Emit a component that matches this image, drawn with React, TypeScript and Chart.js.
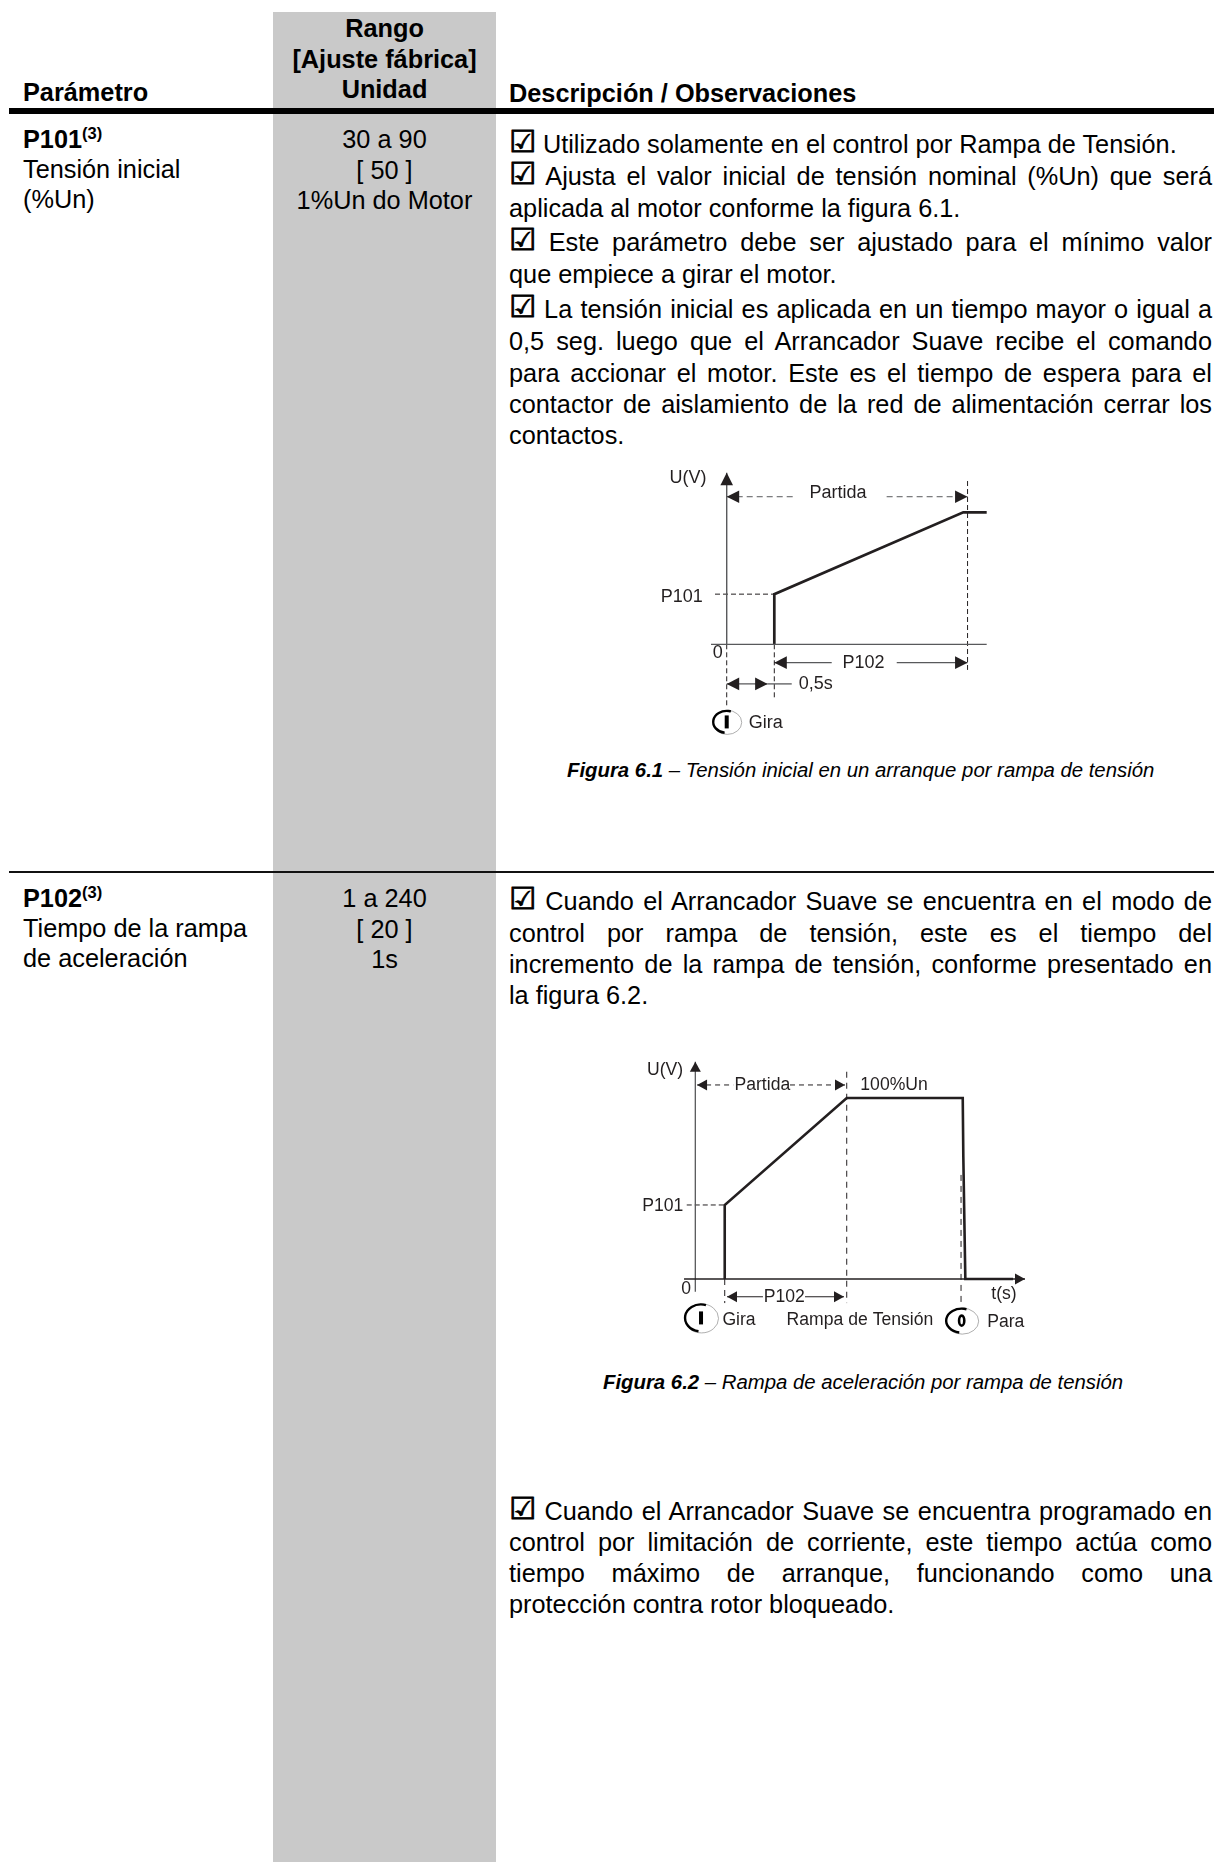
import React, { useEffect, useRef } from "react";
import { Chart, registerables } from "chart.js";

Chart.register(...registerables);

// ---------- table text ----------
const FONT = '"Liberation Sans", Arial, sans-serif';
const BOX = "\u2611";

const col1Heading = "Parámetro";
const col2Heading = ["Rango", "[Ajuste fábrica]", "Unidad"];
const col3Heading = "Descripción / Observaciones";

const p101Name = ["Tensión inicial", "(%Un)"];
const p101Range = ["30 a 90", "[ 50 ]", "1%Un do Motor"];
const p102Name = ["Tiempo de la rampa", "de aceleración"];
const p102Range = ["1 a 240", "[ 20 ]", "1s"];

const p101Text: [string, number, boolean, boolean][] = [
  ["Utilizado solamente en el control por Rampa de Tensión.", 153, false, true],
  ["Ajusta el valor inicial de tensión nominal (%Un) que será", 185, true, true],
  ["aplicada al motor conforme la figura 6.1.", 217, false, false],
  ["Este parámetro debe ser ajustado para el mínimo valor", 251, true, true],
  ["que empiece a girar el motor.", 283, false, false],
  ["La tensión inicial es aplicada en un tiempo mayor o igual a", 318, true, true],
  ["0,5 seg. luego que el Arrancador Suave recibe el comando", 350, true, false],
  ["para accionar el motor. Este es el tiempo de espera para el", 382, true, false],
  ["contactor de aislamiento de la red de alimentación cerrar los", 413, true, false],
  ["contactos.", 444, false, false],
];
const p102Text: [string, number, boolean, boolean][] = [
  ["Cuando el Arrancador Suave se encuentra en el modo de", 910, true, true],
  ["control por rampa de tensión, este es el tiempo del", 942, true, false],
  ["incremento de la rampa de tensión, conforme presentado en", 973, true, false],
  ["la figura 6.2.", 1004, false, false],
  ["Cuando el Arrancador Suave se encuentra programado en", 1520, true, true],
  ["control por limitación de corriente, este tiempo actúa como", 1551, true, false],
  ["tiempo máximo de arranque, funcionando como una", 1582, true, false],
  ["protección contra rotor bloqueado.", 1613, false, false],
];

const caption1 = ["Figura 6.1", " – Tensión inicial en un arranque por rampa de tensión"];
const caption2 = ["Figura 6.2", " – Rampa de aceleración por rampa de tensión"];

// ---------- figure 6.1 values (t in s, U in %Un) ----------
const f1VoltageT = [0.5, 0.5, 2.485, 2.731];
const f1VoltageU = [0, 38, 100, 100];
const f1XAxisT = [-0.165, 2.731];
const f1YAxisU = [0, 130];
const f1Y0GuideU = [0, -47.3];
const f1StartGuideU = [0, -40.7];
const f1EndT = 2.53;
const f1EndGuideU = [123.7, -19.4];
const f1P101GuideT = [-0.123, 0.5];
const f1PartidaT = [0, 0.735, 1.68, 2.53];
const f1PartidaU = 111.8;
const f1P102T = [0.5, 1.103, 1.786, 2.53];
const f1P102U = -13.9;
const f1DelayT = [0, 0.43, 0.683];
const f1DelayU = -30;

// ---------- figure 6.2 values ----------
const f2VoltageT = [0.5, 0.5, 2.575, 4.548, 4.558, 4.575, 4.592, 5.403];
const f2VoltageU = [0, 40.9, 100, 100, 67.6, 33.5, 0, 0];
const f2XAxisT = [-0.192, 5.607];
const f2YAxisU = [-7, 120];
const f2RampEndGuideU = [114.5, -13.3];
const f2StopT = 4.519;
const f2StopGuideU = [57.5, -14.4];
const f2StartGuideU = [0, -13.3];
const f2P101GuideT = [-0.146, 0.5];
const f2PartidaT = [0.03, 0.646, 1.61, 2.546];
const f2PartidaU = 107.2;
const f2P102T = [0.539, 1.15, 1.866, 2.529];
const f2P102U = -9.8;

const DARK = "#231f20";
const GREY = "#58595b";

type Pt = { x: number; y: number };
const pts = (xs: number[], ys: number[]): Pt[] => xs.map((x, i) => ({ x, y: ys[i] }));
const seg = (
  data: Pt[],
  color: string,
  width: number,
  dash: number[] = [],
  arrow: string | null = null
) => ({
  data,
  borderColor: color,
  borderWidth: width,
  borderDash: dash,
  showLine: true,
  pointRadius: 0,
  tension: 0,
  arrow,
});

type Lbl = { text: string; t: number; u: number };
type Ico = { kind: string; t: number; u: number; rx: number; ry: number };

const annotate = {
  id: "annotate",
  afterDatasetsDraw(chart: any) {
    const { ctx, scales } = chart;
    const o = chart.options.plugins.annotate;
    chart.data.datasets.forEach((ds: any, i: number) => {
      if (!ds.arrow) return;
      const el = chart.getDatasetMeta(i).data;
      const head = (a: any, b: any) => {
        const ang = Math.atan2(a.y - b.y, a.x - b.x);
        ctx.save();
        ctx.translate(a.x, a.y);
        ctx.rotate(ang);
        ctx.beginPath();
        ctx.moveTo(0, 0);
        ctx.lineTo(-o.headLen, -o.headW);
        ctx.lineTo(-o.headLen, o.headW);
        ctx.closePath();
        ctx.fillStyle = DARK;
        ctx.fill();
        ctx.restore();
      };
      if (ds.arrow === "start" || ds.arrow === "both") head(el[0], el[1]);
      if (ds.arrow === "end" || ds.arrow === "both") head(el[el.length - 1], el[el.length - 2]);
    });
    ctx.save();
    ctx.font = `${o.size}px ${FONT}`;
    ctx.fillStyle = DARK;
    ctx.textAlign = "center";
    ctx.textBaseline = "middle";
    o.labels.forEach((l: Lbl) => {
      ctx.fillText(l.text, scales.x.getPixelForValue(l.t), scales.y.getPixelForValue(l.u));
    });
    o.icons.forEach((c: Ico) => {
      const x = scales.x.getPixelForValue(c.t);
      const y = scales.y.getPixelForValue(c.u);
      ctx.strokeStyle = "#9a9a9a";
      ctx.lineWidth = 0.8;
      ctx.beginPath();
      ctx.ellipse(x + 0.5, y + 0.5, c.rx, c.ry, 0, 0, Math.PI * 2);
      ctx.stroke();
      ctx.strokeStyle = "#000";
      ctx.lineWidth = 2.4;
      ctx.beginPath();
      ctx.ellipse(x, y, c.rx - 1, c.ry - 1, 0, Math.PI * 0.55, Math.PI * 1.6);
      ctx.stroke();
      ctx.fillStyle = "#000";
      if (c.kind === "I") {
        ctx.fillRect(x - 2, y - 6.5, 4, 13);
      } else {
        ctx.lineWidth = 2.6;
        ctx.beginPath();
        ctx.ellipse(x, y, 2.6, 5, 0, 0, Math.PI * 2);
        ctx.stroke();
      }
    });
    ctx.restore();
  },
};

function makeOptions(
  xMin: number,
  xMax: number,
  yMin: number,
  yMax: number,
  annotation: any
): any {
  return {
    animation: false,
    responsive: false,
    maintainAspectRatio: false,
    layout: { padding: 0 },
    events: [],
    scales: {
      x: { type: "linear", min: xMin, max: xMax, display: false },
      y: { type: "linear", min: yMin, max: yMax, display: false },
    },
    plugins: {
      legend: { display: false },
      tooltip: { enabled: false },
      annotate: annotation,
    },
  };
}

function Figure({ left, top, width, height, config }: any) {
  const ref = useRef<HTMLCanvasElement | null>(null);
  useEffect(() => {
    const chart = new Chart(ref.current as HTMLCanvasElement, config());
    return () => chart.destroy();
  }, []);
  return (
    <canvas
      ref={ref}
      width={width}
      height={height}
      style={{ position: "absolute", left, top, width, height, display: "block" }}
    />
  );
}

const fig1 = () => ({
  type: "scatter",
  plugins: [annotate],
  data: {
    datasets: [
      seg(pts(f1XAxisT, [0, 0]), GREY, 1.2),
      seg(pts([0, 0], f1YAxisU), GREY, 1.4, [], "end"),
      seg(pts([0, 0], f1Y0GuideU), DARK, 1, [5, 3]),
      seg(pts([0.5, 0.5], f1StartGuideU), DARK, 1, [5, 3]),
      seg(pts([f1EndT, f1EndT], f1EndGuideU), DARK, 1, [5, 3]),
      seg(pts(f1P101GuideT, [f1VoltageU[1], f1VoltageU[1]]), DARK, 1, [5, 3]),
      seg(pts(f1PartidaT.slice(0, 2), [f1PartidaU, f1PartidaU]), GREY, 1, [6, 4], "start"),
      seg(pts(f1PartidaT.slice(2), [f1PartidaU, f1PartidaU]), GREY, 1, [6, 4], "end"),
      seg(pts(f1P102T.slice(0, 2), [f1P102U, f1P102U]), GREY, 1.3, [], "start"),
      seg(pts(f1P102T.slice(2), [f1P102U, f1P102U]), GREY, 1.3, [], "end"),
      seg(pts(f1DelayT.slice(0, 2), [f1DelayU, f1DelayU]), GREY, 1.3, [], "both"),
      seg(pts(f1DelayT.slice(1), [f1DelayU, f1DelayU]), GREY, 1.3),
      seg(pts(f1VoltageT, f1VoltageU), DARK, 2.7),
    ],
  },
  options: makeOptions(-1.121, 3.291, -72.5, 147.2, {
    size: 18,
    headLen: 12.5,
    headW: 6.3,
    labels: [
      { text: "U(V)", t: -0.407, u: 126 },
      { text: "Partida", t: 1.169, u: 114.6 },
      { text: "P101", t: -0.472, u: 36.1 },
      { text: "0", t: -0.094, u: -6.6 },
      { text: "P102", t: 1.436, u: -13.9 },
      { text: "0,5s", t: 0.935, u: -30 },
      { text: "Gira", t: 0.409, u: -59.7 },
    ],
    icons: [{ kind: "I", t: 0, u: -58.8, rx: 14.5, ry: 12 }],
  }),
});

const fig2 = () => ({
  type: "scatter",
  plugins: [annotate],
  data: {
    datasets: [
      seg(pts(f2XAxisT, [0, 0]), DARK, 1.6, [], "end"),
      seg(pts([0, 0], f2YAxisU), GREY, 1.3, [], "end"),
      seg(pts([2.575, 2.575], f2RampEndGuideU), DARK, 1, [6, 5]),
      seg(pts([f2StopT, f2StopT], f2StopGuideU), DARK, 1, [6, 5]),
      seg(pts([0.5, 0.5], f2StartGuideU), DARK, 1, [6, 5]),
      seg(pts(f2P101GuideT, [f2VoltageU[1], f2VoltageU[1]]), DARK, 1, [5, 3]),
      seg(pts(f2PartidaT.slice(0, 2), [f2PartidaU, f2PartidaU]), DARK, 1, [5, 4], "start"),
      seg(pts(f2PartidaT.slice(2), [f2PartidaU, f2PartidaU]), DARK, 1, [5, 4], "end"),
      seg(pts(f2P102T.slice(0, 2), [f2P102U, f2P102U]), DARK, 1.2, [], "start"),
      seg(pts(f2P102T.slice(2), [f2P102U, f2P102U]), DARK, 1.2, [], "end"),
      seg(pts(f2VoltageT, f2VoltageU), DARK, 2.6),
    ],
  },
  options: makeOptions(-1.281, 5.862, -33.7, 132.04, {
    size: 17.6,
    headLen: 10,
    headW: 5.5,
    labels: [
      { text: "U(V)", t: -0.515, u: 115.6 },
      { text: "Partida", t: 1.14, u: 107.2 },
      { text: "100%Un", t: 3.38, u: 107.2 },
      { text: "P101", t: -0.555, u: 40.3 },
      { text: "0", t: -0.158, u: -5.7 },
      { text: "t(s)", t: 5.25, u: -8.3 },
      { text: "P102", t: 1.514, u: -9.8 },
      { text: "Gira", t: 0.743, u: -22.7 },
      { text: "Rampa de Tensión", t: 2.8, u: -22.7 },
      { text: "Para", t: 5.28, u: -24.1 },
    ],
    icons: [
      { kind: "I", t: 0.097, u: -21.5, rx: 17, ry: 14.5 },
      { kind: "0", t: 4.53, u: -23, rx: 16.5, ry: 13 },
    ],
  }),
});

// ---------- layout helpers ----------
const SIZE = 25.3;
const LH = 32;
const BASE = 24.77;

function Line({ x, width, y, align, bold, children }: any) {
  return (
    <div
      style={{
        position: "absolute",
        left: x,
        top: y - BASE,
        width,
        height: LH,
        lineHeight: `${LH}px`,
        fontSize: SIZE,
        fontFamily: FONT,
        fontWeight: bold ? 700 : 400,
        color: "#000",
        textAlign: align || "left",
        whiteSpace: align === "justify" ? "normal" : "nowrap",
        textAlignLast: align === "justify" ? "justify" : undefined,
      }}
    >
      {children}
    </div>
  );
}

function Body({ rows }: { rows: [string, number, boolean, boolean][] }) {
  return (
    <>
      {rows.map(([text, y, just, box]) => (
        <Line key={y} x={509} width={703} y={y} align={just ? "justify" : "left"}>
          {box && (
            <span
              style={{
                fontFamily: '"DejaVu Sans"',
                fontSize: 30,
                lineHeight: 0,
                position: "relative",
                top: -1,
                WebkitTextStroke: "0.9px #000",
              }}
            >
              {BOX}
            </span>
          )}
          {box ? " " : ""}
          {text}
        </Line>
      ))}
    </>
  );
}

function Param({ name, y }: { name: string; y: number }) {
  return (
    <Line x={23} width={240} y={y} bold>
      {name}
      <span style={{ fontSize: 16.5, position: "relative", top: -9, lineHeight: 0 }}>(3)</span>
    </Line>
  );
}

function Caption({ parts, y, x }: { parts: string[]; y: number; x: number }) {
  return (
    <div
      style={{
        position: "absolute",
        left: x,
        top: y,
        fontFamily: FONT,
        fontStyle: "italic",
        fontSize: 20.35,
        lineHeight: "24px",
        whiteSpace: "nowrap",
        color: "#000",
      }}
    >
      <b>{parts[0]}</b>
      {parts[1]}
    </div>
  );
}

export default function App() {
  useEffect(() => {
    document.body.style.margin = "0";
  }, []);
  return (
    <div
      style={{
        position: "absolute",
        left: 0,
        top: 0,
        width: 1214,
        height: 1862,
        overflow: "hidden",
        background: "#fff",
        filter: "blur(0.35px)",
      }}
    >
      <div style={{ position: "absolute", left: 273, top: 12, width: 223, height: 1850, background: "#c9c9c9" }} />
      <div style={{ position: "absolute", left: 9, top: 108, width: 1205, height: 6, background: "#000" }} />
      <div style={{ position: "absolute", left: 9, top: 871, width: 1205, height: 2, background: "#111" }} />

      <Line x={23} width={240} y={101} bold>{col1Heading}</Line>
      {col2Heading.map((t, i) => (
        <Line key={t} x={273} width={223} y={[37, 68, 98][i]} align="center" bold>{t}</Line>
      ))}
      <Line x={509} width={703} y={102} bold>{col3Heading}</Line>

      <Param name="P101" y={148} />
      {p101Name.map((t, i) => (
        <Line key={t} x={23} width={240} y={[178, 208][i]}>{t}</Line>
      ))}
      {p101Range.map((t, i) => (
        <Line key={t} x={273} width={223} y={[148, 179, 209][i]} align="center">{t}</Line>
      ))}
      <Body rows={p101Text} />

      <Param name="P102" y={907} />
      {p102Name.map((t, i) => (
        <Line key={t} x={23} width={240} y={[937, 967][i]}>{t}</Line>
      ))}
      {p102Range.map((t, i) => (
        <Line key={t} x={273} width={223} y={[907, 938, 968][i]} align="center">{t}</Line>
      ))}
      <Body rows={p102Text} />

      <Figure left={620} top={450} width={420} height={290} config={fig1} />
      <Figure left={620} top={1040} width={420} height={300} config={fig2} />

      <Caption parts={caption1} x={567} y={758} />
      <Caption parts={caption2} x={603} y={1370} />
    </div>
  );
}
